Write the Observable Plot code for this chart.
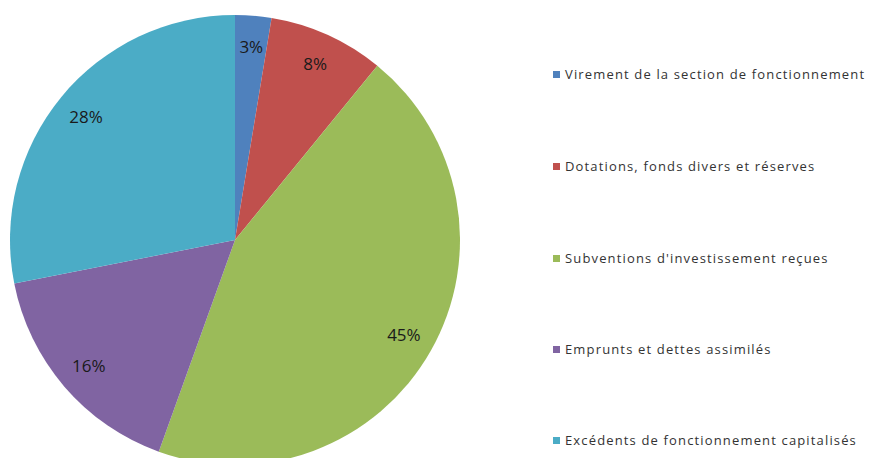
<!DOCTYPE html>
<html><head><meta charset="utf-8">
<script src="https://cdn.jsdelivr.net/npm/d3@7"></script>
<script src="https://cdn.jsdelivr.net/npm/@observablehq/plot@0.6"></script>
<style>
body{margin:0;background:#fff;}
#wrap{position:relative;width:869px;height:458px;overflow:hidden;}
#legend{position:absolute;left:553px;top:0;font-family:"Open Sans",sans-serif;font-size:13px;letter-spacing:1.15px;color:#333;}
.item{position:absolute;left:0;white-space:nowrap;display:flex;align-items:center;}
.sw{width:7px;height:7px;margin-right:5px;}
</style></head><body>
<div id="wrap"><div id="chart"></div><div id="legend"></div></div>
<script>
const categories = ["Virement de la section de fonctionnement","Dotations, fonds divers et réserves","Subventions d'investissement reçues","Emprunts et dettes assimilés","Excédents de fonctionnement capitalisés"];
const values = [2.6, 8.3, 44.6, 16.4, 28.1];
const labels = ["3%","8%","45%","16%","28%"];
const colors = ["#4F81BD","#C0504D","#9BBB59","#8064A2","#4BACC6"];

const pie = d3.pie().sort(null).value(d => d.value);
const arcs = pie(categories.map((c,i)=>({category:c,value:values[i],label:labels[i]})));
const labelR = 0.86;
const labelData = arcs.map(a => {const m=(a.startAngle+a.endAngle)/2; return {x: labelR*Math.sin(m), y: labelR*Math.cos(m), label: a.data.label};});

function pieMark(index, scales, vals, dims, context) {
  const cx = scales.x(0), cy = scales.y(0), r = scales.x(1) - scales.x(0);
  const arc = d3.arc().innerRadius(0).outerRadius(r);
  const g = d3.create("svg:g").attr("transform", `translate(${cx},${cy})`);
  g.selectAll("path").data(arcs).join("path")
    .attr("d", arc).attr("fill", d => scales.color(d.data.category));
  return g.node();
}

const chart = Plot.plot({
  width: 869, height: 458,
  margin: 0,
  x: {domain: [-1, 1], range: [10, 460], axis: null},
  y: {domain: [1, -1], range: [15, 465], axis: null},
  color: {domain: categories, range: colors},
  style: {background: "transparent"},
  marks: [
    pieMark,
    Plot.text(labelData, {x: "x", y: "y", text: "label", fontSize: 17, fill: "#1a1a1a", fontFamily: "Open Sans, sans-serif"})
  ]
});
document.getElementById("chart").appendChild(chart);

const legendTops = [74, 166, 258, 349, 440];
const leg = document.getElementById("legend");
categories.forEach((c,i)=>{
  const d = document.createElement("div");
  d.className = "item";
  d.style.top = (legendTops[i] - 9) + "px";
  d.style.height = "18px";
  d.innerHTML = `<span class="sw" style="background:${colors[i]}"></span><span>${c}</span>`;
  leg.appendChild(d);
});
</script>
</body></html>
